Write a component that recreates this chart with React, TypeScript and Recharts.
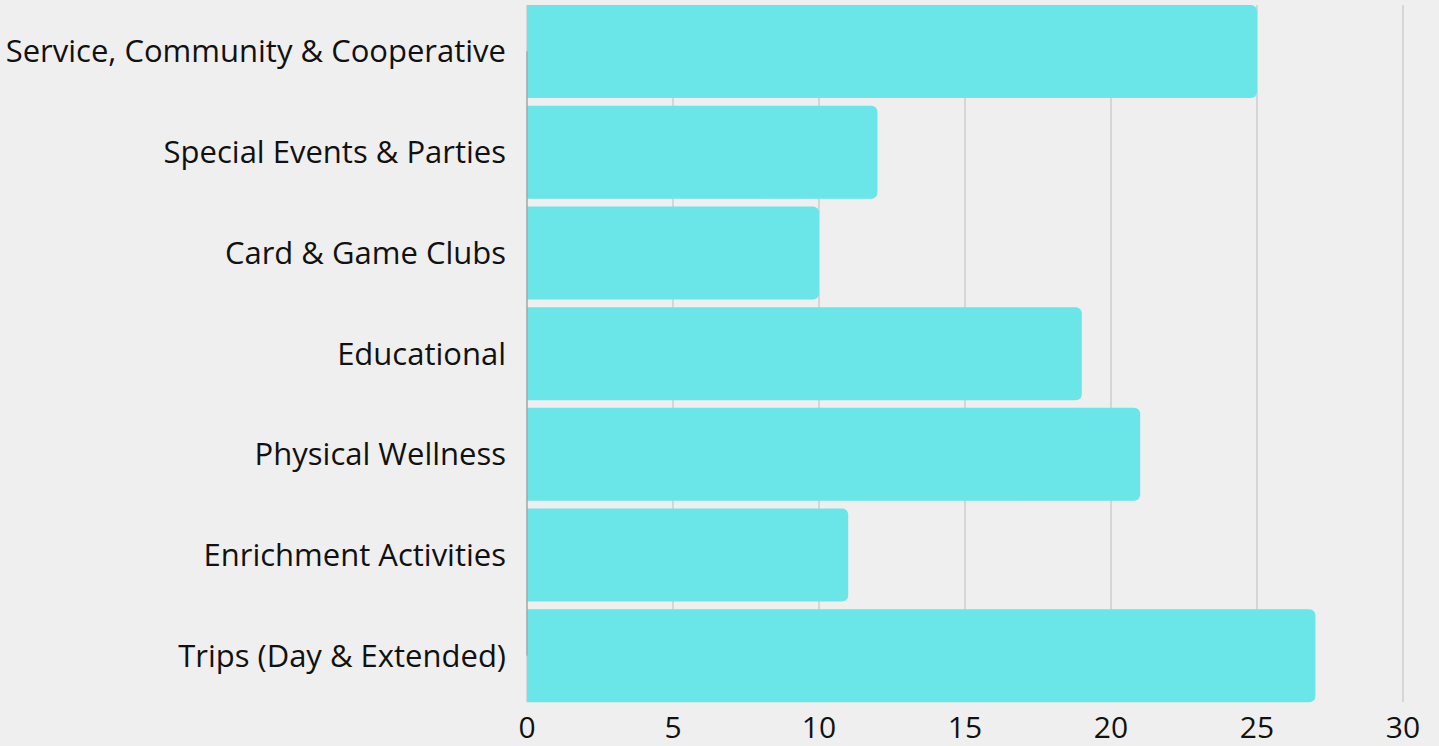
import React from 'react';
import { BarChart, Bar, XAxis, YAxis, CartesianGrid, ReferenceLine } from 'recharts';

const categories = [
  'Service, Community & Cooperative',
  'Special Events & Parties',
  'Card & Game Clubs',
  'Educational',
  'Physical Wellness',
  'Enrichment Activities',
  'Trips (Day & Extended)',
];
const counts = [25, 12, 10, 19, 21, 11, 27];
const xTicks = [0, 5, 10, 15, 20, 25, 30];

const data = categories.map((name, i) => ({ name, value: counts[i] }));

const font = "'Open Sans', 'Noto Sans', sans-serif";

const App = () => {
  return (
    <div
      style={{
        position: 'fixed',
        top: 0,
        left: 0,
        width: 1439,
        height: 746,
        background: '#efefef',
      }}
    >
      <BarChart
        width={1439}
        height={746}
        data={data}
        layout="vertical"
        margin={{ top: 1, right: 36, bottom: 0, left: 0 }}
        barCategoryGap={4}
      >
        <CartesianGrid horizontal={false} stroke="#bdbdbd" y={5} height={697} />
        <XAxis
          type="number"
          domain={[0, 30]}
          ticks={xTicks}
          height={40}
          axisLine={false}
          tickLine={false}
          tickSize={0}
          tickMargin={11}
          tick={{ fill: '#111', fontSize: 30, fontFamily: font }}
        />
        <YAxis
          type="category"
          dataKey="name"
          width={527}
          axisLine={false}
          tickLine={false}
          tickSize={0}
          tickMargin={21}
          interval={0}
          tick={{ fill: '#111', fontSize: 31, fontFamily: font }}
        />
        <ReferenceLine
          segment={[
            { x: 0, y: categories[0] },
            { x: 0, y: categories[categories.length - 1] },
          ]}
          stroke="#999"
        />
        <Bar
          dataKey="value"
          fill="#6ae5e8"
          radius={[0, 6, 6, 0]}
          isAnimationActive={false}
        />
      </BarChart>
    </div>
  );
};

export default App;
